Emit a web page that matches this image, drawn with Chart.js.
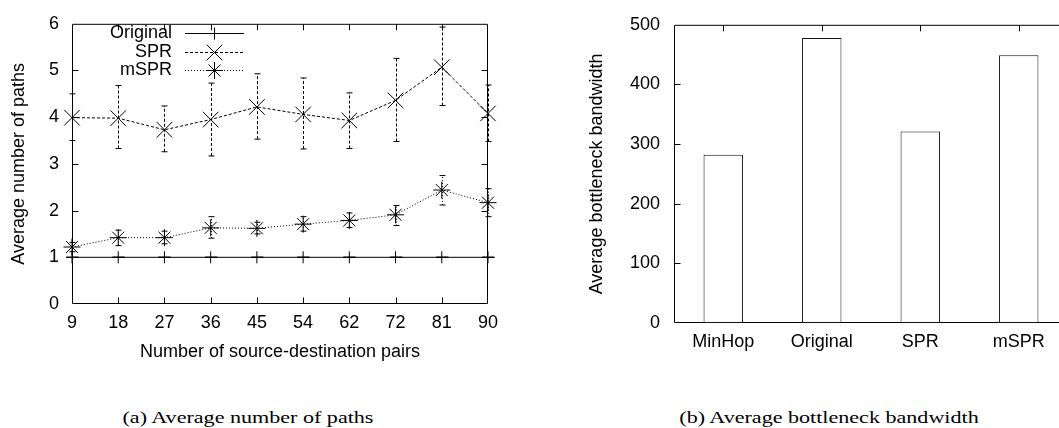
<!DOCTYPE html>
<html>
<head>
<meta charset="utf-8">
<title>Average number of paths / Average bottleneck bandwidth</title>
<script src="https://cdn.jsdelivr.net/npm/chart.js@4.4.1/dist/chart.umd.min.js"></script>
<style>
  html, body { margin: 0; padding: 0; background: #fff; }
  body { position: relative; width: 1059px; height: 428px; overflow: hidden; }
  canvas { position: absolute; top: 0; }
  #pathsChart { left: 0; }
  #bandwidthChart { left: 560px; }
  .caption {
    position: absolute; top: 409px; width: 400px; text-align: center;
    font: 16px/18px "Liberation Serif", "Times New Roman", serif; color: #000;
    transform: scaleX(1.38); transform-origin: 50% 50%; white-space: nowrap;
  }
</style>
</head>
<body>
<canvas id="pathsChart" width="520" height="370"></canvas>
<canvas id="bandwidthChart" width="520" height="370"></canvas>
<div class="caption" style="left:48px">(a) Average number of paths</div>
<div class="caption" style="left:629px">(b) Average bottleneck bandwidth</div>
<script>
// (a) number of paths per source-destination pair count
const pairCounts = ['9', '18', '27', '36', '45', '54', '62', '72', '81', '90'];
const originalPaths = [1, 1, 1, 1, 1, 1, 1, 1, 1, 1];
const sprPaths = [3.99, 3.98, 3.73, 3.95, 4.22, 4.06, 3.93, 4.36, 5.07, 4.08];
const sprLow = [3.50, 3.33, 3.26, 3.17, 3.53, 3.32, 3.33, 3.48, 4.25, 3.48];
const sprHigh = [4.50, 4.68, 4.24, 4.73, 4.93, 4.84, 4.52, 5.26, 5.93, 4.69];
const msprPaths = [1.22, 1.42, 1.42, 1.63, 1.62, 1.71, 1.79, 1.91, 2.44, 2.17];
const msprLow = [1.12, 1.25, 1.29, 1.41, 1.50, 1.56, 1.64, 1.68, 2.12, 1.87];
const msprHigh = [1.32, 1.58, 1.56, 1.87, 1.75, 1.87, 1.95, 2.11, 2.75, 2.47];
const pathTickStep = 1;

// (b) bottleneck bandwidth per method
const methods = ['MinHop', 'Original', 'SPR', 'mSPR'];
const bandwidth = [282, 478, 321, 449];
const bandwidthTickStep = 100;

const SANS = '"Liberation Sans", Arial, Helvetica, sans-serif';
Chart.defaults.font.family = SANS;
Chart.defaults.font.size = 18;
Chart.defaults.color = '#000';

// gnuplot style box with inward ticks on every side
const frameTicks = {
  id: 'frameTicks',
  beforeDatasetsDraw(chart, args, opts) {
    const { ctx, chartArea: a, scales: { x, y } } = chart;
    const L = a.left + 0.5, R = a.right - 0.5, T = a.top + 0.5, B = a.bottom - 0.5;
    const len = opts.tickLength;
    ctx.save();
    ctx.strokeStyle = opts.color;
    ctx.lineWidth = 1;
    ctx.setLineDash([]);
    ctx.beginPath();
    ctx.rect(L, T, R - L, B - T);
    x.ticks.forEach((t, i) => {
      const px = Math.round(x.getPixelForTick(i)) + 0.5;
      if (px <= L + 1 || px >= R - 1) return;
      ctx.moveTo(px, T); ctx.lineTo(px, T + len);
      ctx.moveTo(px, B); ctx.lineTo(px, B - len);
    });
    y.ticks.forEach((t, i) => {
      const py = Math.round(y.getPixelForTick(i)) + 0.5;
      if (py <= T + 1 || py >= B - 1) return;
      ctx.moveTo(L, py); ctx.lineTo(L + len, py);
      ctx.moveTo(R, py); ctx.lineTo(R - len, py);
    });
    ctx.stroke();
    ctx.restore();
  }
};

const errorBars = {
  id: 'errorBars',
  afterDatasetsDraw(chart) {
    const { ctx, scales: { y } } = chart;
    chart.data.datasets.forEach((ds, i) => {
      if (!ds.errorLow) return;
      const meta = chart.getDatasetMeta(i);
      ctx.save();
      ctx.strokeStyle = ds.borderColor;
      ctx.lineWidth = 1;
      meta.data.forEach((pt, j) => {
        const x = Math.round(pt.x) + 0.5;
        const y0 = y.getPixelForValue(ds.errorLow[j]);
        const y1 = y.getPixelForValue(ds.errorHigh[j]);
        const c = ds.capHalf;
        ctx.setLineDash(ds.borderDash || []);
        ctx.beginPath();
        ctx.moveTo(x, y0); ctx.lineTo(x, y1);
        ctx.stroke();
        ctx.setLineDash([]);
        ctx.beginPath();
        ctx.moveTo(x - c, y0); ctx.lineTo(x + c, y0);
        ctx.moveTo(x - c, y1); ctx.lineTo(x + c, y1);
        ctx.stroke();
      });
      ctx.restore();
    });
  }
};

// legend inside the top-left corner: label, then line sample with marker
const insetLegend = {
  id: 'insetLegend',
  afterDraw(chart, args, opts) {
    const { ctx } = chart;
    ctx.save();
    ctx.font = '18px ' + SANS;
    ctx.textAlign = 'right';
    ctx.textBaseline = 'middle';
    chart.data.datasets.forEach((ds, i) => {
      const yy = opts.top + i * opts.rowHeight;
      ctx.fillStyle = '#000';
      ctx.fillText(ds.label, opts.textRight, yy);
      ctx.strokeStyle = ds.borderColor;
      ctx.lineWidth = 1;
      ctx.setLineDash(ds.borderDash || []);
      ctx.beginPath();
      ctx.moveTo(opts.lineStart, Math.round(yy) + 0.5);
      ctx.lineTo(opts.lineEnd, Math.round(yy) + 0.5);
      ctx.stroke();
      ctx.setLineDash([]);
      ctx.fillStyle = 'rgba(0,0,0,0)';
      Chart.helpers.drawPoint(ctx, {
        pointStyle: ds.pointStyle, radius: ds.pointRadius, rotation: 0, borderWidth: 1
      }, (opts.lineStart + opts.lineEnd) / 2, Math.round(yy) + 0.5);
    });
    ctx.restore();
  }
};

function seriesStyle(style) {
  return Object.assign({
    borderColor: '#000', borderWidth: 1, fill: false, tension: 0,
    pointBorderColor: '#000', pointBackgroundColor: 'rgba(0,0,0,0)',
    pointBorderWidth: 1, clip: false
  }, style);
}

new Chart(document.getElementById('pathsChart'), {
  type: 'line',
  data: {
    labels: pairCounts,
    datasets: [
      seriesStyle({ label: 'Original', data: originalPaths, pointStyle: 'cross', pointRadius: 6,
        errorLow: originalPaths, errorHigh: originalPaths, capHalf: 6 }),
      seriesStyle({ label: 'SPR', data: sprPaths, borderDash: [3, 2], pointStyle: 'crossRot', pointRadius: 11,
        errorLow: sprLow, errorHigh: sprHigh, capHalf: 3 }),
      seriesStyle({ label: 'mSPR', data: msprPaths, borderDash: [1, 2], pointStyle: 'star', pointRadius: 8.5,
        errorLow: msprLow, errorHigh: msprHigh, capHalf: 3 })
    ]
  },
  options: {
    responsive: false,
    animation: false,
    devicePixelRatio: 1,
    layout: { padding: { top: 19, right: 32, bottom: 0, left: 0 } },
    plugins: {
      legend: { display: false },
      tooltip: { enabled: false },
      frameTicks: { tickLength: 6, color: '#000' },
      insetLegend: { top: 33, rowHeight: 18.7, textRight: 172, lineStart: 185, lineEnd: 244 }
    },
    scales: {
      x: {
        type: 'category',
        offset: false,
        grid: { display: false, drawTicks: false },
        border: { display: false },
        ticks: { padding: 8, maxRotation: 0, autoSkip: false },
        title: { display: true, text: 'Number of source-destination pairs', padding: { top: 0, bottom: 7 } },
        afterFit(scale) { scale.height = 66; }
      },
      y: {
        min: 0,
        max: 6,
        grid: { display: false, drawTicks: false },
        border: { display: false },
        ticks: { stepSize: pathTickStep, padding: 13 },
        title: { display: true, text: 'Average number of paths', padding: { top: 8, bottom: 0 } },
        afterFit(scale) { scale.width = 72; }
      }
    }
  },
  plugins: [frameTicks, errorBars, insetLegend]
});

new Chart(document.getElementById('bandwidthChart'), {
  type: 'bar',
  data: {
    labels: methods,
    datasets: [{
      label: 'Average bottleneck bandwidth',
      data: bandwidth,
      backgroundColor: '#fff',
      borderColor: '#111',
      borderWidth: 1,
      borderSkipped: false,
      barPercentage: 0.4,
      categoryPercentage: 1.0
    }]
  },
  options: {
    responsive: false,
    animation: false,
    devicePixelRatio: 1,
    layout: { padding: { top: 18, right: 12, bottom: 0, left: 0 } },
    plugins: {
      legend: { display: false },
      tooltip: { enabled: false },
      frameTicks: { tickLength: 6, color: '#000' }
    },
    scales: {
      x: {
        grid: { display: false, drawTicks: false },
        border: { display: false },
        ticks: { padding: 8, maxRotation: 0, autoSkip: false },
        afterFit(scale) { scale.height = 47; }
      },
      y: {
        min: 0,
        max: 500,
        grid: { display: false, drawTicks: false },
        border: { display: false },
        ticks: { stepSize: bandwidthTickStep, padding: 14 },
        title: { display: true, text: 'Average bottleneck bandwidth', padding: { top: 26, bottom: 0 } },
        afterFit(scale) { scale.width = 114; }
      }
    }
  },
  plugins: [frameTicks]
});
</script>
</body>
</html>
